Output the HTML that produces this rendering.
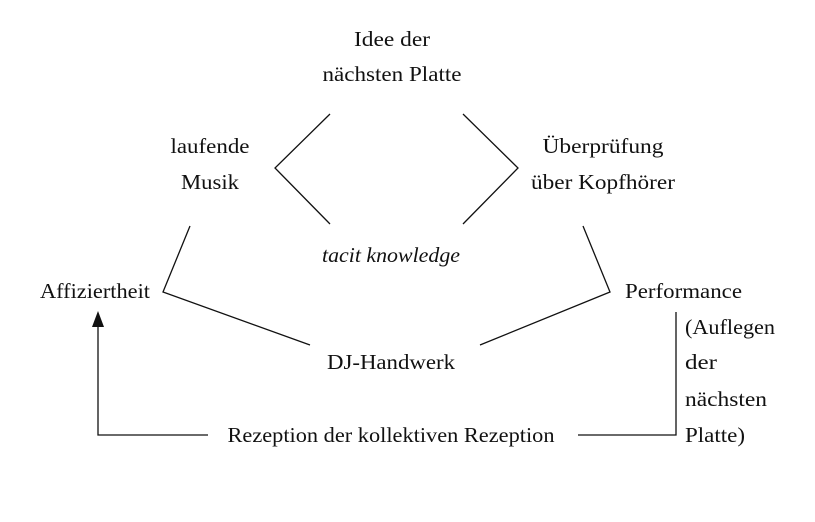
<!DOCTYPE html>
<html><head><meta charset="utf-8"><style>
html,body{margin:0;padding:0;background:#fff;}
svg{display:block;}
text{font-family:"Liberation Serif",serif;font-size:21.5px;fill:#111;}
</style></head><body>
<svg width="815" height="522" viewBox="0 0 815 522" xmlns="http://www.w3.org/2000/svg">
<g stroke="#111" stroke-width="1.3" fill="none">
<polyline points="330,114 275,168 330,224"/>
<polyline points="463,114 518,168 463,224"/>
<polyline points="190,226 163,292 310,345"/>
<polyline points="583,226 610,292 480,345"/>
<polyline points="208,435 98,435 98,326"/>
<polyline points="578,435 676,435 676,312"/>
</g>
<polygon points="98,311 92,327 104,327" fill="#111"/>
<g text-anchor="middle">
<text x="392" y="46" textLength="76" lengthAdjust="spacingAndGlyphs">Idee der</text>
<text x="392" y="81" textLength="139" lengthAdjust="spacingAndGlyphs">nächsten Platte</text>
<text x="210" y="153" textLength="79" lengthAdjust="spacingAndGlyphs">laufende</text>
<text x="210" y="189" textLength="58" lengthAdjust="spacingAndGlyphs">Musik</text>
<text x="603" y="153" textLength="121" lengthAdjust="spacingAndGlyphs">Überprüfung</text>
<text x="603" y="189" textLength="144" lengthAdjust="spacingAndGlyphs">über Kopfhörer</text>
<text x="391" y="262" font-style="italic" textLength="138" lengthAdjust="spacingAndGlyphs">tacit knowledge</text>
<text x="391" y="369" textLength="128" lengthAdjust="spacingAndGlyphs">DJ-Handwerk</text>
<text x="391" y="442" textLength="327" lengthAdjust="spacingAndGlyphs">Rezeption der kollektiven Rezeption</text>
</g>
<text x="40" y="298" textLength="110" lengthAdjust="spacingAndGlyphs">Affiziertheit</text>
<text x="625" y="298" textLength="117" lengthAdjust="spacingAndGlyphs">Performance</text>
<text x="685" y="334" textLength="90" lengthAdjust="spacingAndGlyphs">(Auflegen</text>
<text x="685" y="369" textLength="32" lengthAdjust="spacingAndGlyphs">der</text>
<text x="685" y="406" textLength="82" lengthAdjust="spacingAndGlyphs">nächsten</text>
<text x="685" y="442" textLength="60" lengthAdjust="spacingAndGlyphs">Platte)</text>
</svg>
</body></html>
